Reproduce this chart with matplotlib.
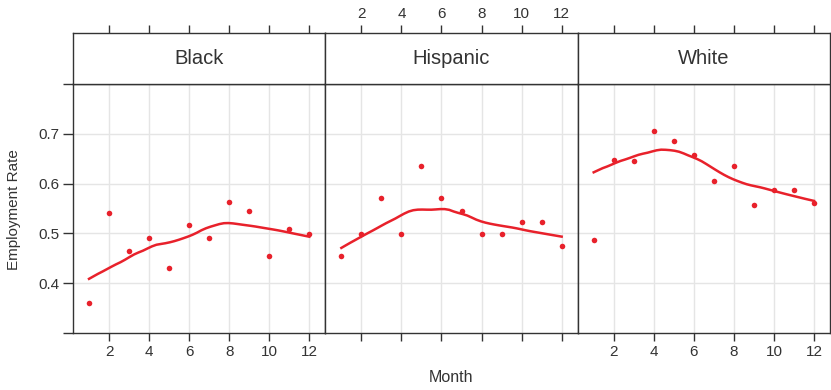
import numpy as np
import matplotlib
matplotlib.use('Agg')
import matplotlib.pyplot as plt

plt.rcParams['font.family'] = ['Liberation Sans', 'DejaVu Sans']

months = np.arange(1, 13)
groups = ['Black', 'Hispanic', 'White']
black = [0.361, 0.541, 0.465, 0.491, 0.431, 0.517, 0.491, 0.563, 0.545, 0.455, 0.509, 0.499]
hispanic = [0.454, 0.499, 0.571, 0.499, 0.635, 0.571, 0.545, 0.499, 0.499, 0.523, 0.523, 0.475]
white = [0.486, 0.648, 0.646, 0.705, 0.685, 0.657, 0.605, 0.635, 0.558, 0.587, 0.587, 0.562]
rates = [black, hispanic, white]

red = '#e8212b'
dark = '#333333'
grid_c = '#e5e5e5'


def local_fit(x, y, w, x0, q):
    d = np.abs(x - x0)
    h = np.sort(d)[q - 1]
    tw = np.clip(1 - (d / h) ** 3, 0, None) ** 3 * w
    sw = np.sqrt(tw)
    A = np.column_stack([np.ones_like(x), x - x0]) * sw[:, None]
    c = np.linalg.lstsq(A, y * sw, rcond=None)[0]
    return c[0], c[1]


def loess(x, y, span=2/3, iters=4, n_out=50):
    # degree 1 loess, symmetric family, fit at vertices + cubic hermite interpolation
    x = np.asarray(x, float)
    y = np.asarray(y, float)
    q = int(np.floor(len(x) * span))
    xs_sorted = np.sort(x)
    t = 0.005 * (x.max() - x.min())
    verts = np.concatenate([[x.min() - t], (xs_sorted[:-1] + xs_sorted[1:]) / 2, [x.max() + t]])
    rw = np.ones_like(x)

    def surface(xe):
        vals = np.array([local_fit(x, y, rw, v, q) for v in verts])
        out = []
        for xx in np.atleast_1d(xe):
            k = min(max(np.searchsorted(verts, xx) - 1, 0), len(verts) - 2)
            x0, x1 = verts[k], verts[k + 1]
            hh = x1 - x0
            s = (xx - x0) / hh
            h00 = 2 * s**3 - 3 * s**2 + 1
            h10 = s**3 - 2 * s**2 + s
            h01 = -2 * s**3 + 3 * s**2
            h11 = s**3 - s**2
            out.append(h00 * vals[k, 0] + h10 * hh * vals[k, 1]
                       + h01 * vals[k + 1, 0] + h11 * hh * vals[k + 1, 1])
        return np.array(out)

    for it in range(iters):
        fit = surface(x)
        if it == iters - 1:
            break
        res = y - fit
        cmad = 6 * np.median(np.abs(res))
        u = np.abs(res) / cmad
        rw = np.where(u < 1, (1 - u**2) ** 2, 0.0)
    xo = np.linspace(x.min(), x.max(), n_out)
    return xo, surface(xo)


W, H = 831, 390
fig = plt.figure(figsize=(W / 100, H / 100), dpi=100)

left, right = 73, 830
pw = (right - left) / 3
ptop, pbot = 84, 333
stop = 33

xlim = (0.2, 12.8)
ylim = (0.3, 0.8)

for i, (g, r) in enumerate(zip(groups, rates)):
    x0 = left + i * pw
    ax = fig.add_axes([x0 / W, 1 - pbot / H, pw / W, (pbot - ptop) / H])
    ax.set_xlim(*xlim)
    ax.set_ylim(*ylim)
    for v in [2, 4, 6, 8, 10, 12]:
        ax.axvline(v, color=grid_c, lw=1, zorder=0)
    for v in [0.4, 0.5, 0.6, 0.7]:
        ax.axhline(v, color=grid_c, lw=1, zorder=0)
    ax.plot(months, r, 'o', color=red, ms=4, mew=0, zorder=3)
    sx, sy = loess(months, r)
    ax.plot(sx, sy, '-', color=red, lw=1.8, zorder=2)
    for s in ax.spines.values():
        s.set_color(dark)
        s.set_linewidth(1)
    ax.set_xticks([2, 4, 6, 8, 10, 12])
    ax.tick_params(axis='x', direction='out', length=6, width=1, color=dark,
                   labelsize=11, labelcolor=dark, pad=3)
    if i == 1:
        ax.set_xticklabels([])
    if i == 0:
        ax.set_yticks([0.3, 0.4, 0.5, 0.6, 0.7, 0.8])
        ax.set_yticklabels(['', '0.4', '0.5', '0.6', '0.7', ''])
        ax.tick_params(axis='y', direction='out', length=7, width=1, color=dark,
                       labelsize=11, labelcolor=dark, pad=3)
    else:
        ax.set_yticks([])

    sa = fig.add_axes([x0 / W, 1 - ptop / H, pw / W, (ptop - stop) / H])
    sa.set_xlim(*xlim)
    sa.set_yticks([])
    sa.set_xticks([2, 4, 6, 8, 10, 12])
    sa.xaxis.set_ticks_position('top')
    sa.tick_params(axis='x', direction='out', length=6, width=1, color=dark,
                   labelsize=11, labelcolor=dark, pad=3,
                   labeltop=(i == 1), labelbottom=False)
    for s in sa.spines.values():
        s.set_color(dark)
        s.set_linewidth(1)
    sa.text(0.5, 0.5, g, transform=sa.transAxes, ha='center', va='center',
            fontsize=14.5, color=dark)

fig.text((left + right) / 2 / W, 1 - 378 / H, 'Month', ha='center', va='center',
         fontsize=11.5, color=dark)
fig.text(14 / W, 1 - 210 / H, 'Employment Rate', ha='center', va='center',
         rotation=90, fontsize=11, color=dark)

fig.savefig('out.png', dpi=100)
